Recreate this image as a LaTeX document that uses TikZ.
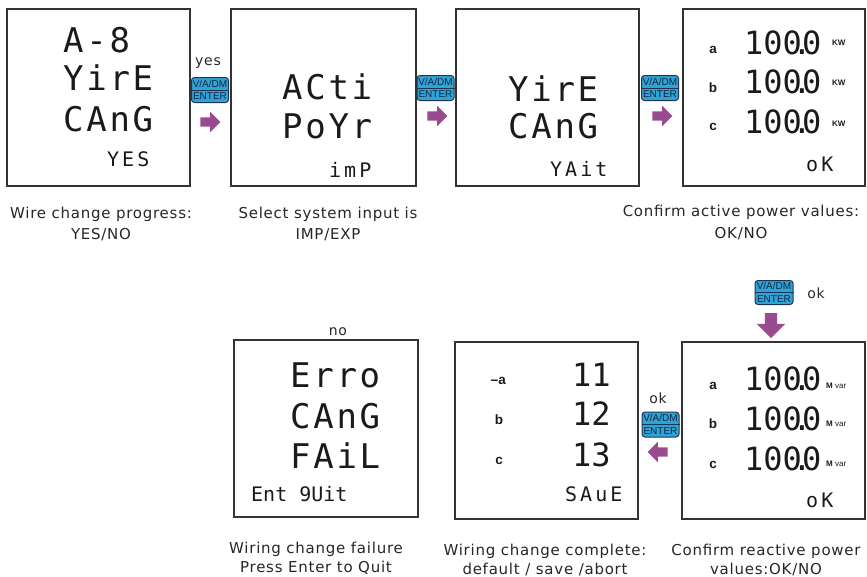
\documentclass[tikz,border=0pt]{standalone}
\usepackage{fontspec}
\usepackage{graphicx}
\setmainfont{DejaVu Sans}
\newfontfamily\lcdfont[LetterSpace=8]{DejaVu Sans Mono}
\newfontfamily\lcdsmall[LetterSpace=15]{DejaVu Sans Mono}
\newfontfamily\numfont{DejaVu Sans Mono}
\newfontfamily\capfont[LetterSpace=5]{DejaVu Sans}
\newfontfamily\arialfont{Liberation Sans}
\newfontfamily\arialbold{Liberation Sans Bold}
\usetikzlibrary{shapes.arrows}
\definecolor{btnfill}{HTML}{2FA3D8}
\definecolor{btnline}{HTML}{1E3550}
\definecolor{btntext}{HTML}{13263F}
\definecolor{arrowc}{HTML}{9A4A8E}
\definecolor{panelline}{HTML}{333333}
\definecolor{captext}{HTML}{262626}
\definecolor{lcdtext}{HTML}{1A1A1A}
\tikzset{
  panel/.style={draw=panelline, line width=1.4pt, minimum width=183pt, minimum height=177pt, inner sep=0pt},
  lcdbig/.style={font={\lcdfont\fontsize{34}{34}\selectfont}, text=lcdtext, anchor=west, inner sep=0pt, text height=24.8pt, text depth=0pt},
  lcdsm/.style={font={\lcdsmall\fontsize{20}{20}\selectfont}, text=lcdtext, anchor=west, inner sep=0pt, text height=14.6pt, text depth=0pt},
  lcdnum/.style={font={\numfont\fontsize{32}{32}\selectfont}, text=lcdtext, anchor=west, inner sep=0pt, text height=23.3pt, text depth=0pt},
  chan/.style={font={\arialbold\fontsize{13.5}{13.5}\selectfont}, text=lcdtext, inner sep=0pt},
  unitlbl/.style={font={\arialbold\fontsize{8}{8}\selectfont}, text=lcdtext, anchor=west, inner sep=0pt},
  captxt/.style={font={\capfont\fontsize{15}{21}\selectfont}, align=center, text=captext, anchor=north, inner sep=0pt},
  captxtb/.style={font={\capfont\fontsize{15}{19}\selectfont}, align=center, text=captext, anchor=north, inner sep=0pt},
  lbl/.style={font={\capfont\fontsize{14}{14}\selectfont}, text=captext, anchor=base, inner sep=0pt},
  btn/.style={draw=btnline, fill=btnfill, rounded corners=3pt, line width=1pt, minimum width=37pt, minimum height=25pt, inner sep=0pt,
    font={\arialfont\fontsize{10}{12.5}\selectfont}, text=btntext, align=center},
  barrow/.style={single arrow, fill=arrowc, draw=none, minimum height=20pt, inner xsep=0pt, inner ysep=4.5pt, text height=0pt, text depth=0pt, single arrow head extend=5.5pt}
}
\begin{document}
\begin{tikzpicture}[x=1pt,y=-1pt]
\useasboundingbox (0,0) rectangle (867,576);
% panels
\node[panel] (p1) at (98.5,97.5) {};
\node[panel, minimum width=185pt] (p2) at (323.5,97.5) {};
\node[panel] (p3) at (547.5,97.5) {};
\node[panel, minimum width=182pt] (p4) at (774,97.5) {};
\node[panel] (p5) at (773.5,430.5) {};
\node[panel] (p6) at (546.5,430.5) {};
\node[panel, minimum width=184pt] (p7) at (326,428.5) {};
% panel 1
\node[lcdbig] (t11) at (63,40) {A-8};
\node[lcdbig] (t12) at (63,78.5) {YirE};
\node[lcdbig] (t13) at (63,119) {CAnG};
\node[lcdsm] (t14) at (107,159.5) {YES};
% panel 2
\node[lcdbig] (t21) at (282,87.5) {ACti};
\node[lcdbig] (t22) at (282,126.5) {PoYr};
\node[lcdsm] (t23) at (329,170) {imP};
% panel 3
\node[lcdbig] (t31) at (508,89) {YirE};
\node[lcdbig] (t32) at (508,126.5) {CAnG};
\node[lcdsm] (t33) at (550,169.5) {YAit};
% panel 4
\node[chan] (a4a) at (713,50) {a};
\node[chan] (a4b) at (713,88) {b};
\node[chan] (a4c) at (713,127) {c};
\node[lcdnum] (v4a) at (744,43) {100\makebox[0pt]{.}0};
\node[lcdnum] (v4b) at (744,82) {100\makebox[0pt]{.}0};
\node[lcdnum] (v4c) at (744,121.5) {100\makebox[0pt]{.}0};
\node[unitlbl] (u4a) at (832,43) {KW};
\node[unitlbl] (u4b) at (832,83) {KW};
\node[unitlbl] (u4c) at (832,124) {KW};
\node[lcdsm] (ok4) at (806,164) {oK};
% panel 5
\node[chan] (a5a) at (713,386) {a};
\node[chan] (a5b) at (713,424) {b};
\node[chan] (a5c) at (713,465) {c};
\node[lcdnum] (v5a) at (744,379) {100\makebox[0pt]{.}0};
\node[lcdnum] (v5b) at (744,418.5) {100\makebox[0pt]{.}0};
\node[lcdnum] (v5c) at (744,459) {100\makebox[0pt]{.}0};
\node[unitlbl] (u5a) at (826,386) {M {\arialfont var}};
\node[unitlbl] (u5b) at (826,424) {M {\arialfont var}};
\node[unitlbl] (u5c) at (826,464) {M {\arialfont var}};
\node[lcdsm] (ok5) at (806,500) {oK};
% panel 6
\node[chan, anchor=east] (a6a) at (506,381) {{\fontsize{14}{14}\selectfont –}a};
\node[chan] (a6b) at (499,420) {b};
\node[chan] (a6c) at (499,461) {c};
\node[lcdnum] (v6a) at (572,375) {11};
\node[lcdnum] (v6b) at (572,414) {12};
\node[lcdnum] (v6c) at (572,455) {13};
\node[lcdsm] (s6) at (565,494.5) {SAuE};
% panel 7
\node[lcdbig] (t71) at (290,375) {Erro};
\node[lcdbig] (t72) at (290,416.5) {CAnG};
\node[lcdbig] (t73) at (290,456.5) {FAiL};
\node[lcdsm, font={\numfont\fontsize{20}{20}\selectfont}] (t74) at (251,494) {Ent 9Uit};
% buttons
\node[btn] (b1) at (210,90) {V/A/DM\\ENTER};
\node[btn] (b2) at (435.5,88) {V/A/DM\\ENTER};
\node[btn] (b3) at (660,88) {V/A/DM\\ENTER};
\node[btn, minimum width=38pt, minimum height=24pt] (b4) at (774,292.5) {V/A/DM\\ENTER};
\node[btn] (b5) at (660.5,424.5) {V/A/DM\\ENTER};
\foreach \b in {b1,b2,b3,b4,b5} \draw[btnline, line width=1pt] (\b.west) -- (\b.east);
% block arrows
\node[barrow] (a1) at (208,122) {};
\node[barrow] (a2) at (435,116) {};
\node[barrow] (a3) at (660,116) {};
\node[barrow, shape border rotate=270, minimum height=25pt, inner xsep=6pt, inner ysep=6pt, single arrow head extend=8pt] (a4) at (771,322.5) {};
\node[barrow, shape border rotate=180] (a5) at (660,452) {};
% small labels
\node[lbl] (lyes) at (208,65) {yes};
\node[lbl] (lok1) at (816,298) {ok};
\node[lbl] (lok2) at (658,403) {ok};
\node[lbl] (lno) at (338,335) {no};
% captions
\node[captxt] (c1) at (101,206.5) {Wire change progress:\\YES/NO};
\node[captxt] (c2) at (328,206.5) {Select system input is\\IMP/EXP};
\node[captxt, font={\capfont\fontsize{15}{22}\selectfont}] (c3) at (741,205) {Confirm active power values:\\OK/NO};
\node[captxtb] (c7) at (316,541.5) {Wiring change failure\\Press Enter to Quit};
\node[captxtb] (c6) at (545,543.5) {Wiring change complete:\\default / save /abort};
\node[captxtb] (c5) at (766,543.5) {Confirm reactive power\\values:OK/NO};
\end{tikzpicture}
\end{document}
